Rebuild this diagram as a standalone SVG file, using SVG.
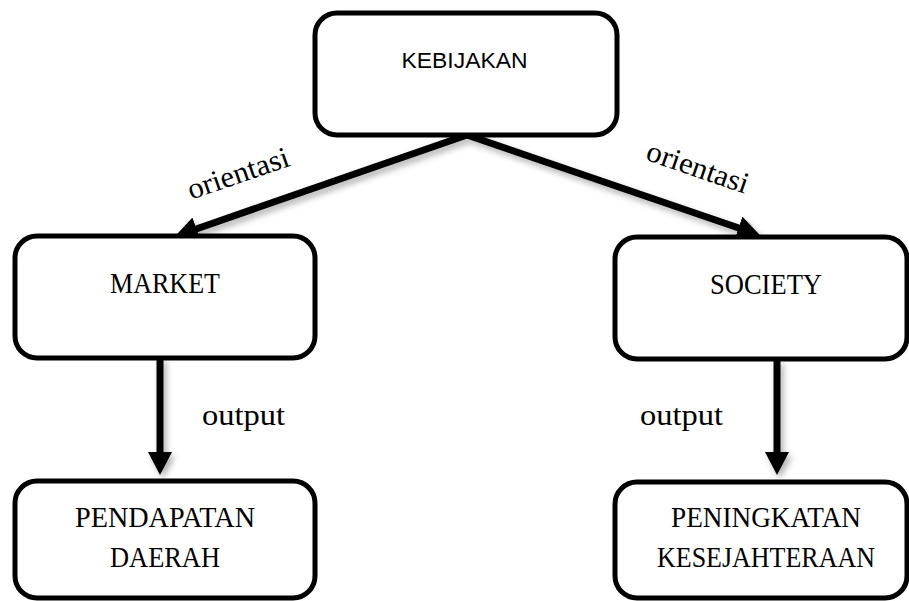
<svg xmlns="http://www.w3.org/2000/svg" width="909" height="601" viewBox="0 0 909 601">
  <style>
    .box { fill: #ffffff; stroke: #000000; stroke-width: 5; }
    .serif { font-family: "Liberation Serif", "Times New Roman", serif; font-size: 30px; fill: #000; text-anchor: middle; }
    .sans { font-family: "Liberation Sans", Arial, sans-serif; font-size: 22px; fill: #000; text-anchor: middle; }
    .lbl { font-family: "Liberation Serif", "Times New Roman", serif; font-size: 30px; fill: #000; text-anchor: middle; }
    .conn { stroke: #000000; stroke-width: 7; fill: none; marker-end: url(#head); }
  </style>
  <defs>
    <marker id="head" viewBox="0 0 23 24" refX="1" refY="12" markerWidth="23" markerHeight="24" markerUnits="userSpaceOnUse" orient="auto">
      <path d="M0,0 L23,12 L0,24 Z" fill="#000000"/>
    </marker>
    <filter id="shadow" x="-20%" y="-20%" width="140%" height="140%">
      <feDropShadow dx="3" dy="4" stdDeviation="3" flood-color="#000000" flood-opacity="0.3"/>
    </filter>
  </defs>
  <rect width="909" height="601" fill="#ffffff"/>

  <g id="connectors" filter="url(#shadow)">
    <line class="conn" x1="467" y1="135" x2="195.5" y2="229.2"/>
    <line class="conn" x1="467" y1="135" x2="739.5" y2="228.3"/>
    <line class="conn" x1="160" y1="358" x2="160" y2="453"/>
    <line class="conn" x1="777" y1="360" x2="777" y2="453"/>
  </g>

  <g id="node-kebijakan">
    <rect class="box" x="315" y="13" width="302" height="122" rx="22"/>
    <text class="sans" x="464.5" y="67.5" textLength="126" lengthAdjust="spacingAndGlyphs">KEBIJAKAN</text>
  </g>

  <g id="node-market">
    <rect class="box" x="15" y="236" width="300" height="122" rx="22"/>
    <text class="serif" x="165" y="292.5" textLength="110" lengthAdjust="spacingAndGlyphs">MARKET</text>
  </g>

  <g id="node-society">
    <rect class="box" x="615" y="237" width="292" height="122" rx="22"/>
    <text class="serif" x="766" y="293.5" textLength="112" lengthAdjust="spacingAndGlyphs">SOCIETY</text>
  </g>

  <g id="node-pendapatan">
    <rect class="box" x="15" y="481" width="300" height="117" rx="22"/>
    <text class="serif" x="165" y="527" textLength="180" lengthAdjust="spacingAndGlyphs">PENDAPATAN</text>
    <text class="serif" x="165" y="567" textLength="110" lengthAdjust="spacingAndGlyphs">DAERAH</text>
  </g>

  <g id="node-peningkatan">
    <rect class="box" x="615" y="482" width="292" height="116" rx="22"/>
    <text class="serif" x="766" y="527" textLength="190" lengthAdjust="spacingAndGlyphs">PENINGKATAN</text>
    <text class="serif" x="766" y="567" textLength="218" lengthAdjust="spacingAndGlyphs">KESEJAHTERAAN</text>
  </g>

  <g id="labels">
    <text class="lbl" transform="translate(239,176) rotate(-19)" x="0" y="7" textLength="106" lengthAdjust="spacingAndGlyphs">orientasi</text>
    <text class="lbl" transform="translate(697,170) rotate(19)" x="0" y="7" textLength="106" lengthAdjust="spacingAndGlyphs">orientasi</text>
    <text class="lbl" x="243.5" y="425" textLength="83" lengthAdjust="spacingAndGlyphs">output</text>
    <text class="lbl" x="681.5" y="425" textLength="83" lengthAdjust="spacingAndGlyphs">output</text>
  </g>
</svg>
